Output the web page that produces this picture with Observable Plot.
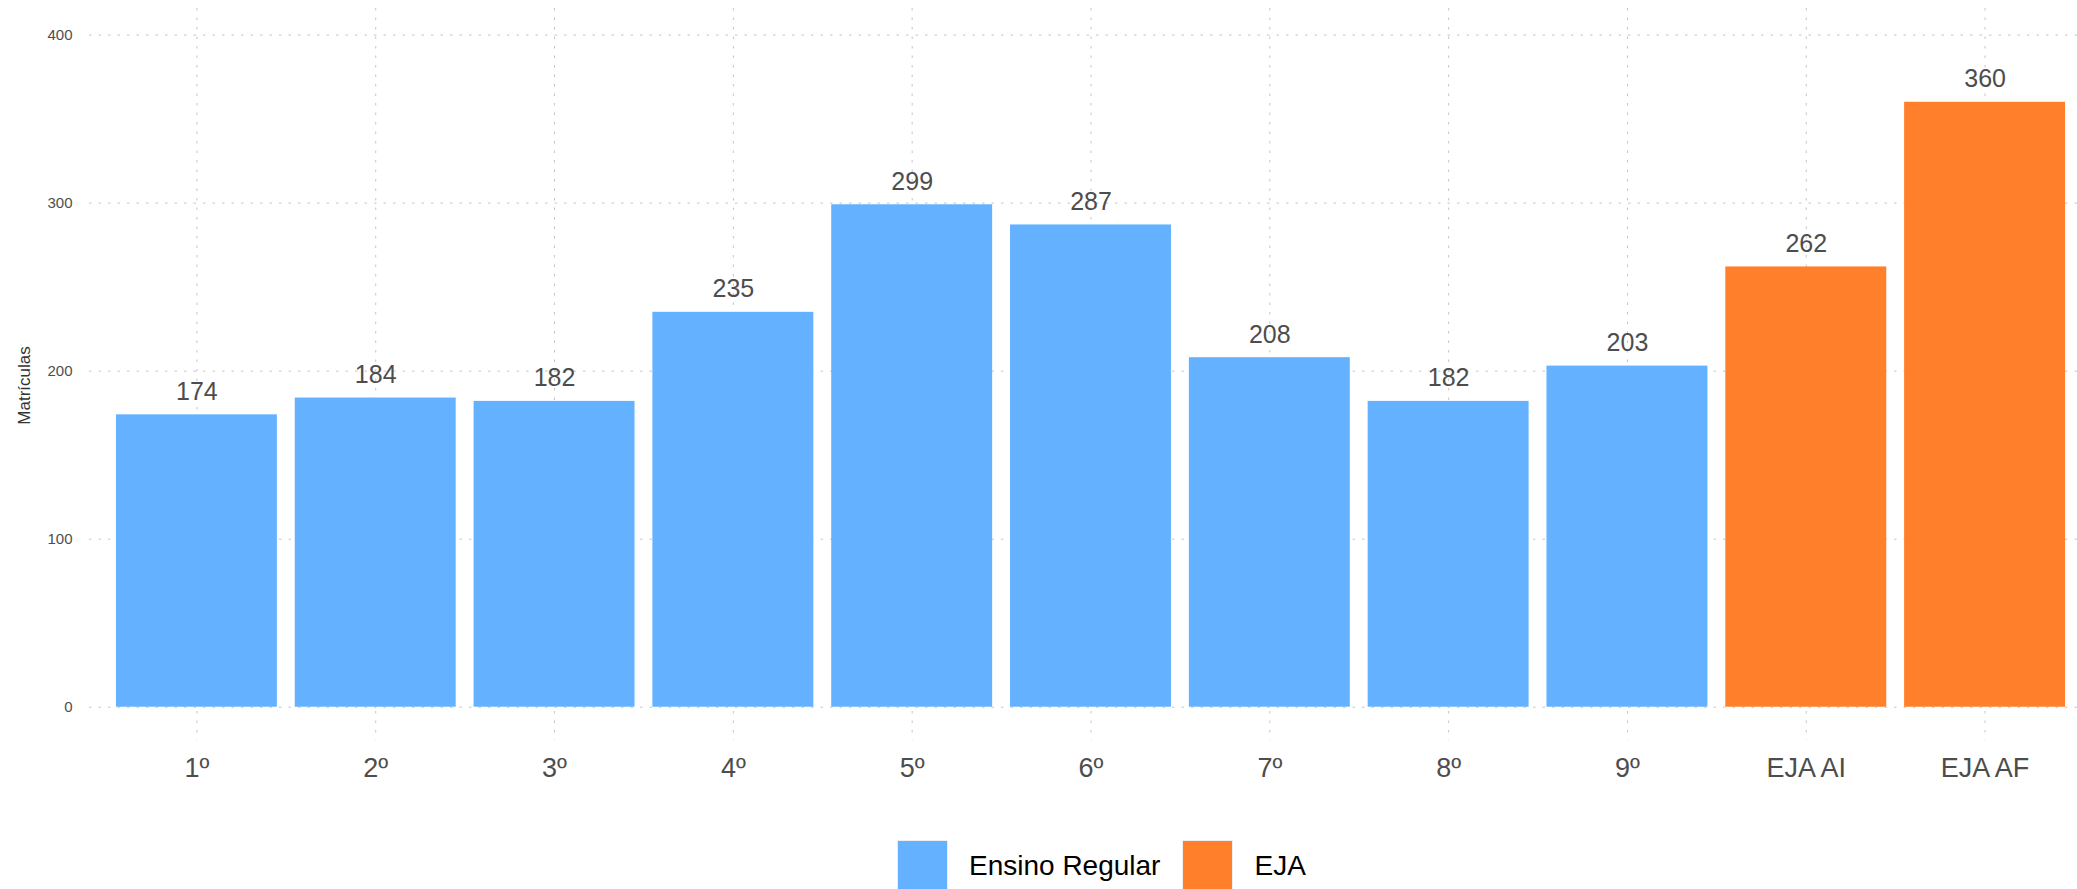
<!DOCTYPE html>
<html>
<head>
<meta charset="utf-8">
<script src="https://cdn.jsdelivr.net/npm/d3@7"></script>
<script src="https://cdn.jsdelivr.net/npm/@observablehq/plot@0.6"></script>
<style>
  html, body { margin: 0; padding: 0; background: #fff; overflow: hidden; }
  body { width: 2077px; height: 889px; font-family: "Liberation Sans", Arial, Helvetica, sans-serif; }
  #legend { display: flex; align-items: center; margin-top: 40px; margin-left: 897px; }
  .sw { width: 51px; height: 51px; box-sizing: border-box; border: 1px solid #eeeeee; }
  .lt { font-size: 28px; color: #000; margin-left: 21px; margin-right: 22px; }
</style>
</head>
<body>
<div id="chart"></div>
<div id="legend"></div>
<script>
const categories = ["1º", "2º", "3º", "4º", "5º", "6º", "7º", "8º", "9º", "EJA AI", "EJA AF"];
const values = [174, 184, 182, 235, 299, 287, 208, 182, 203, 262, 360];
const groups = ["Ensino Regular", "Ensino Regular", "Ensino Regular", "Ensino Regular", "Ensino Regular", "Ensino Regular", "Ensino Regular", "Ensino Regular", "Ensino Regular", "EJA", "EJA"];
const groupNames = ["Ensino Regular", "EJA"];
const groupColors = ["#64b2ff", "#ff7f2a"];
const yTicks = [0, 100, 200, 300, 400];

const data = categories.map((c, i) => ({cat: c, value: values[i], group: groups[i]}));

const chart = Plot.plot({
  width: 2077,
  height: 800,
  marginTop: 8,
  marginBottom: 60,
  marginLeft: 107,
  marginRight: 3,
  style: {fontFamily: '"Liberation Sans", Arial, Helvetica, sans-serif', background: "#fff"},
  x: {domain: categories, paddingInner: 0.1, paddingOuter: 0.05, round: false, label: null},
  y: {domain: [-19.8, 415.8], label: null},
  color: {domain: groupNames, range: groupColors},
  marks: [
    Plot.ruleY(yTicks, {stroke: "#c4c4c4", strokeWidth: 1, strokeDasharray: "2.5,7", insetLeft: -18, insetRight: -3}),
    Plot.gridX({stroke: "#c4c4c4", strokeOpacity: 1, strokeWidth: 1, strokeDasharray: "2.5,7"}),
    Plot.barY(data, {x: "cat", y1: 0, y2: "value", fill: "group"}),
    Plot.text(data, {x: "cat", y: "value", text: d => String(d.value), dy: -23, lineAnchor: "middle", fontSize: 25, fill: "#4d4d4d"}),
    Plot.axisX({tickSize: 0, tickPadding: 17, fontSize: 27, color: "#4d4d4d", label: null}),
    Plot.axisY({ticks: yTicks, tickSize: 0, tickPadding: 35, fontSize: 15, color: "#4d4d4d", label: null}),
    Plot.text(["Matrículas"], {frameAnchor: "left", textAnchor: "middle", dx: -83, dy: 11, rotate: -90, fontSize: 17, fill: "#333"})
  ]
});
document.getElementById("chart").appendChild(chart);

const legend = document.getElementById("legend");
groupNames.forEach((g, i) => {
  const sw = document.createElement("div");
  sw.className = "sw";
  sw.style.background = groupColors[i];
  const t = document.createElement("span");
  t.className = "lt";
  t.textContent = g;
  legend.appendChild(sw);
  legend.appendChild(t);
});
</script>
</body>
</html>
